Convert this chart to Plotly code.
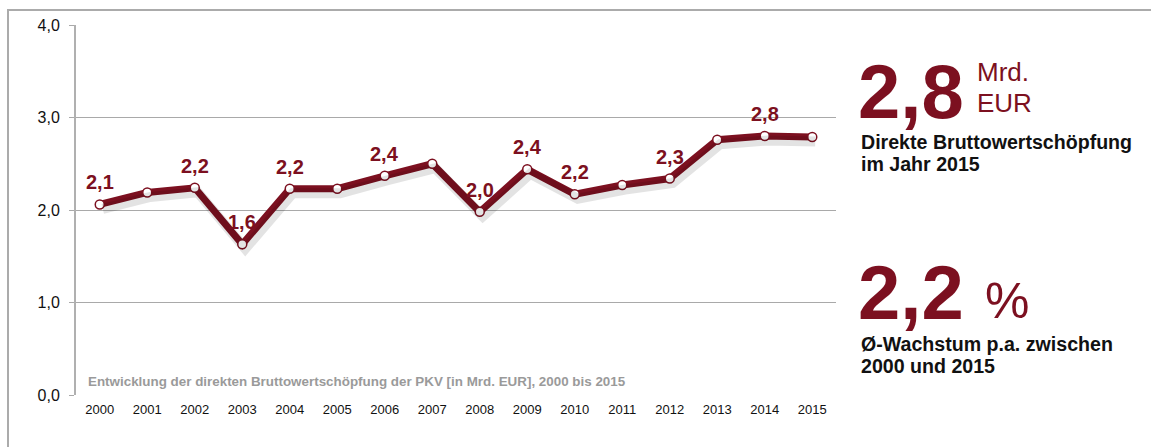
import plotly.graph_objects as go

years = [str(y) for y in range(2000, 2016)]
values = [2.06, 2.19, 2.24, 1.63, 2.23, 2.23, 2.37, 2.50, 1.98, 2.44, 2.17, 2.27, 2.34, 2.76, 2.80, 2.79]
point_labels = ["2,1", "", "2,2", "1,6", "2,2", "", "2,4", "", "2,0", "2,4", "2,2", "", "2,3", "", "2,8", ""]
ytick_vals = [0, 1, 2, 3, 4]
ytick_text = ["0,0", "1,0", "2,0", "3,0", "4,0"]

W, H = 1151, 447
RED = "#7c1020"
GRID = "#a9a9a9"
FONT = "Liberation Sans, Arial"

def px(x):
    return x / W

def py(y):
    return 1 - y / H

x_dom = [px(76), px(836)]
y_dom = [py(395), py(25)]

fig = go.Figure()

# soft shadow (same data drawn on an offset overlay axis)
fig.add_trace(go.Scatter(
    x=years, y=values, xaxis="x2", yaxis="y2", mode="lines",
    line=dict(color="rgba(0,0,0,0.11)", width=10), hoverinfo="skip", showlegend=False))

fig.add_trace(go.Scatter(
    x=years, y=values, mode="lines+markers",
    line=dict(color=RED, width=7),
    marker=dict(size=9, color="white", line=dict(color=RED, width=1.5)),
    showlegend=False))

# value labels (category index positions on the category axis)
for i, (v, lab) in enumerate(zip(values, point_labels)):
    if lab:
        fig.add_annotation(x=i, y=v, xref="x", yref="y", text=lab, showarrow=False, yshift=22,
                           font=dict(family=FONT, size=20, color=RED, weight="bold"))

fig.update_layout(
    width=W, height=H, margin=dict(l=0, r=0, t=0, b=0, autoexpand=False),
    paper_bgcolor="white", plot_bgcolor="white",
    font=dict(family=FONT, color="#111"),
    xaxis=dict(domain=x_dom, type="category", range=[-0.5, 15.5], automargin=False,
               showgrid=False, showline=False, zeroline=False, ticks="",
               ticklabelstandoff=5,
               tickfont=dict(size=13, color="#111"), fixedrange=True),
    yaxis=dict(domain=y_dom, range=[0, 4], tickvals=ytick_vals, ticktext=ytick_text,
               automargin=False,
               showgrid=True, gridcolor=GRID, gridwidth=1.3,
               showline=True, linecolor="#b0b0b0", linewidth=2,
               zeroline=False, ticks="outside", ticklen=5, tickcolor=GRID,
               ticklabelstandoff=6,
               tickfont=dict(size=16, color="#111"), fixedrange=True),
    xaxis2=dict(domain=x_dom, overlaying="x", type="category", automargin=False,
                range=[-0.5 - 3 / 47.5, 15.5 - 3 / 47.5], visible=False),
    yaxis2=dict(domain=y_dom, overlaying="y", automargin=False,
                range=[4.5 / 92.5, 4 + 4.5 / 92.5], visible=False),
)

# frame
fig.add_shape(type="line", xref="paper", yref="paper", x0=px(7), x1=1, y0=py(10), y1=py(10),
              line=dict(color="#ababab", width=2))
fig.add_shape(type="line", xref="paper", yref="paper", x0=px(8), x1=px(8), y0=py(10), y1=0,
              line=dict(color="#ababab", width=2))

def note(text, x, y, size, color, bold=False, yanchor="bottom"):
    fig.add_annotation(text=text, xref="paper", yref="paper", x=px(x), y=py(y),
                       xanchor="left", yanchor=yanchor, showarrow=False,
                       font=dict(family=FONT, size=size, color=color,
                                 weight="bold" if bold else "normal"))

note("Entwicklung der direkten Bruttowertschöpfung der PKV [in Mrd. EUR], 2000 bis 2015",
     86, 381, 13.4, "#9a9a9a", bold=True, yanchor="middle")

# right-side key figures
note("2,8", 856, 136, 76, RED, bold=True)
note("Mrd.", 975, 89, 26, RED)
note("EUR", 975, 120, 26, RED)
note("Direkte Bruttowertschöpfung", 859, 155, 19.6, "#111", bold=True)
note("im Jahr 2015", 859, 177, 19.6, "#111", bold=True)

note("2,2", 856, 337, 76, RED, bold=True)
note("%", 983, 331, 50, RED)
note("Ø-Wachstum p.a. zwischen", 859, 357, 19.6, "#111", bold=True)
note("2000 und 2015", 859, 379, 19.6, "#111", bold=True)

fig.write_html("out.html")
